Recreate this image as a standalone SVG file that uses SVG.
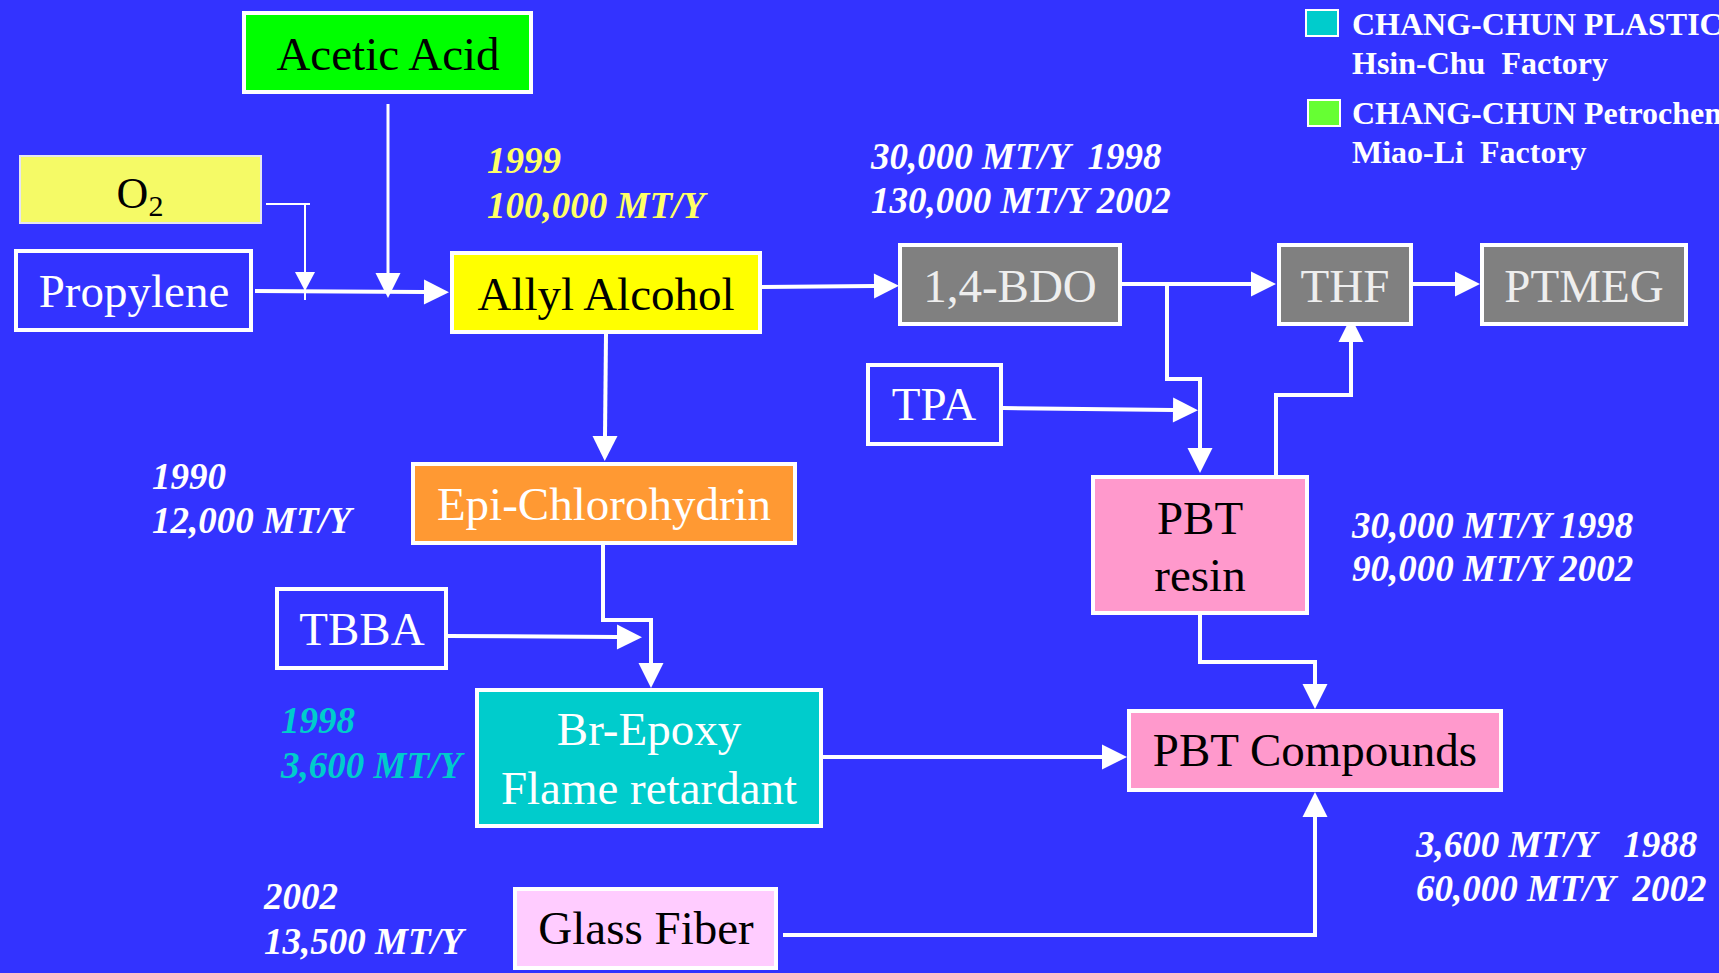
<svg xmlns="http://www.w3.org/2000/svg" width="1719" height="973" viewBox="0 0 1719 973">
<style>
.box{stroke:#fff;stroke-width:4}
.lbl{font-family:"Liberation Serif","Times New Roman",serif;font-size:47px;text-anchor:middle}
.ann{font-family:"Liberation Serif","Times New Roman",serif;font-size:37px;font-weight:bold;font-style:italic;fill:#fff;white-space:pre}
.leg{font-family:"Liberation Serif","Times New Roman",serif;font-size:32px;font-weight:bold;fill:#fff;white-space:pre}
.con{fill:none;stroke:#fff;stroke-width:4}
.thin{fill:none;stroke:#fff;stroke-width:2}
</style>
<defs>
<marker id="ah" markerUnits="userSpaceOnUse" markerWidth="25" markerHeight="25" refX="0" refY="12.5" orient="auto" overflow="visible">
<path d="M0,0 L25,12.5 L0,25 z" fill="#fff"/>
</marker>
</defs>
<rect x="0" y="0" width="1719" height="973" fill="#3333FF"/>

<g id="connectors">
<path class="thin" d="M266,204 H310"/>
<path class="thin" d="M305,205 V300"/>
<polygon points="295,272 315,272 305,291" fill="#fff"/>
<path class="con" style="stroke-width:3" d="M388,104 V273" marker-end="url(#ah)"/>
<path class="con" d="M255,291 L424,292" marker-end="url(#ah)"/>
<path class="con" d="M762,287 L874,286" marker-end="url(#ah)"/>
<path class="con" d="M1122,284 H1251" marker-end="url(#ah)"/>
<path class="con" d="M1413,284 H1455" marker-end="url(#ah)"/>
<path class="con" d="M1167,284 V379 H1200 V448" marker-end="url(#ah)"/>
<path class="con" d="M1003,408 L1173,410" marker-end="url(#ah)"/>
<path class="con" d="M1276,475 V395 H1351 V342" marker-end="url(#ah)"/>
<path class="con" d="M606,334 L605,436" marker-end="url(#ah)"/>
<path class="con" d="M603,545 V620 H651 V663" marker-end="url(#ah)"/>
<path class="con" d="M448,636 L617,637" marker-end="url(#ah)"/>
<path class="con" d="M823,757 H1102" marker-end="url(#ah)"/>
<path class="con" d="M1200,615 V662 H1315 V684" marker-end="url(#ah)"/>
<path class="con" d="M783,935 H1315 V817" marker-end="url(#ah)"/>
</g>

<g id="acetic-acid"><rect class="box" x="244" y="13" width="287" height="79" fill="#00FF00"/><text class="lbl" x="388" y="70" fill="#000">Acetic Acid</text></g>
<g id="o2"><rect x="20" y="156" width="241" height="67" fill="#F5FA66" stroke="#E6E6F0" stroke-width="2"/><text class="lbl" x="140" y="208" fill="#000" style="font-size:44px">O<tspan dy="8" style="font-size:30px">2</tspan></text></g>
<g id="propylene"><rect class="box" x="16" y="251" width="235" height="79" fill="#3333FF"/><text class="lbl" x="134" y="307" fill="#fff">Propylene</text></g>
<g id="allyl-alcohol"><rect class="box" x="452" y="253" width="308" height="79" fill="#FFFF00"/><text class="lbl" x="606" y="310" fill="#000">Allyl Alcohol</text></g>
<g id="bdo"><rect class="box" x="900" y="245" width="220" height="79" fill="#808080"/><text class="lbl" x="1010" y="302" fill="#EEEEEE">1,4-BDO</text></g>
<g id="thf"><rect class="box" x="1279" y="245" width="132" height="79" fill="#808080"/><text class="lbl" x="1345" y="302" fill="#EEEEEE">THF</text></g>
<g id="ptmeg"><rect class="box" x="1482" y="245" width="204" height="79" fill="#808080"/><text class="lbl" x="1584" y="302" fill="#EEEEEE">PTMEG</text></g>
<g id="tpa"><rect class="box" x="868" y="365" width="133" height="79" fill="#3333FF"/><text class="lbl" x="934" y="420" fill="#fff">TPA</text></g>
<g id="epi"><rect class="box" x="413" y="464" width="382" height="79" fill="#FF9933"/><text class="lbl" x="604" y="520" fill="#fff">Epi-Chlorohydrin</text></g>
<g id="tbba"><rect class="box" x="277" y="589" width="169" height="79" fill="#3333FF"/><text class="lbl" x="362" y="645" fill="#fff">TBBA</text></g>
<g id="br-epoxy"><rect class="box" x="477" y="690" width="344" height="136" fill="#00CCCC"/><text class="lbl" x="649" y="745" fill="#fff">Br-Epoxy</text><text class="lbl" x="649" y="804" fill="#fff">Flame retardant</text></g>
<g id="pbt-resin"><rect class="box" x="1093" y="477" width="214" height="136" fill="#FF99CC"/><text class="lbl" x="1200" y="534" fill="#000">PBT</text><text class="lbl" x="1200" y="591" fill="#000">resin</text></g>
<g id="pbt-compounds"><rect class="box" x="1129" y="711" width="372" height="79" fill="#FF99CC"/><text class="lbl" x="1315" y="766" fill="#000">PBT Compounds</text></g>
<g id="glass-fiber"><rect class="box" x="515" y="889" width="261" height="79" fill="#FFCCFF"/><text class="lbl" x="646" y="944" fill="#000">Glass Fiber</text></g>

<g id="annotations">
<text class="ann" x="487" y="173" style="fill:#FFFF66">1999</text>
<text class="ann" x="487" y="218" style="fill:#FFFF66">100,000 MT/Y</text>
<text class="ann" x="871" y="169">30,000 MT/Y  1998</text>
<text class="ann" x="871" y="213">130,000 MT/Y 2002</text>
<text class="ann" x="152" y="489">1990</text>
<text class="ann" x="152" y="533">12,000 MT/Y</text>
<text class="ann" x="281" y="733" style="fill:#00CCCC">1998</text>
<text class="ann" x="281" y="778" style="fill:#00CCCC">3,600 MT/Y</text>
<text class="ann" x="264" y="909">2002</text>
<text class="ann" x="264" y="954">13,500 MT/Y</text>
<text class="ann" x="1352" y="538">30,000 MT/Y 1998</text>
<text class="ann" x="1352" y="581">90,000 MT/Y 2002</text>
<text class="ann" x="1416" y="857">3,600 MT/Y   1988</text>
<text class="ann" x="1416" y="901">60,000 MT/Y  2002</text>
</g>

<g id="legend">
<rect x="1306" y="10" width="32" height="26" fill="#00CCCC" stroke="#fff" stroke-width="2"/>
<text class="leg" x="1352" y="35">CHANG-CHUN PLASTIC</text>
<text class="leg" x="1352" y="74">Hsin-Chu  Factory</text>
<rect x="1308" y="100" width="32" height="26" fill="#66FF33" stroke="#fff" stroke-width="2"/>
<text class="leg" x="1352" y="124">CHANG-CHUN Petrochem</text>
<text class="leg" x="1352" y="163">Miao-Li  Factory</text>
</g>
</svg>
